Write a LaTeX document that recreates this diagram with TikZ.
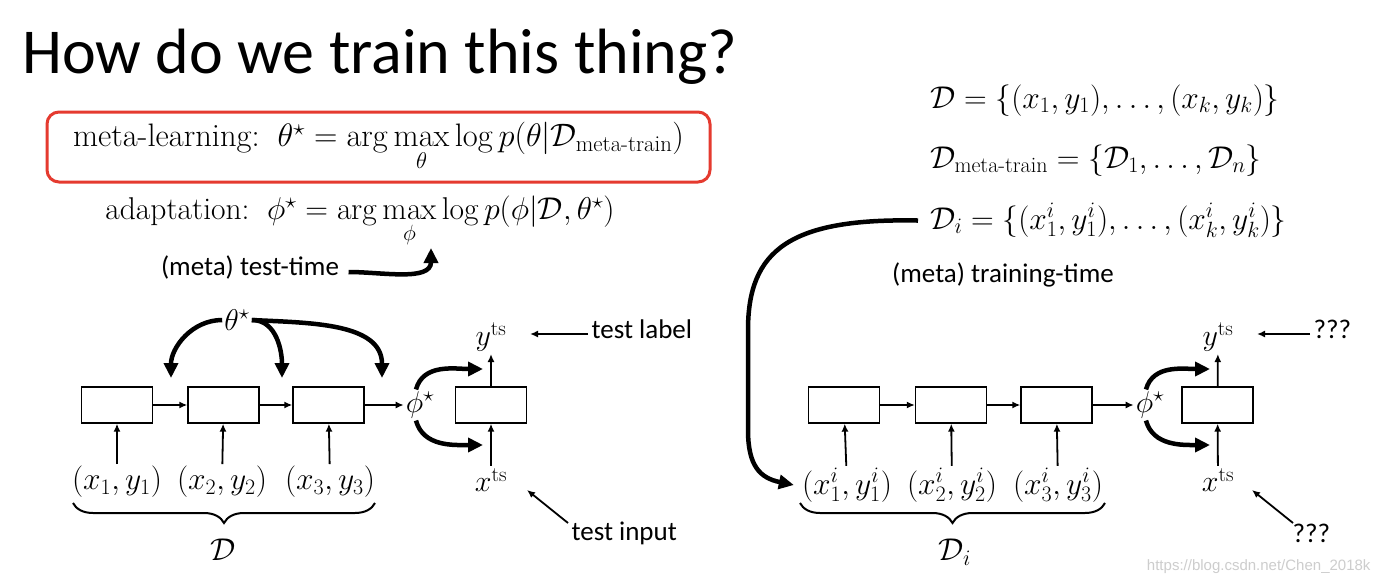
\RequirePackage{fix-cm}
\documentclass[tikz,border=0pt]{standalone}
\usepackage[no-math]{fontspec}
\usepackage{amsmath, amssymb}
\newfontfamily\slidefont{Carlito}
\newfontfamily\markfont{Liberation Sans}
\usepackage{xcolor}
\definecolor{slidered}{HTML}{E53A2F}
\definecolor{markgray}{HTML}{CDCDCD}
\usetikzlibrary{arrows.meta, decorations.pathreplacing}
\newcommand{\Dset}{\mathcal{D}}

\tikzset{
  cell/.style={draw, line width=1.3pt, minimum width=71pt, minimum height=36pt, inner sep=0pt},
  flow/.style={-{Latex[length=8pt,width=7pt]}, line width=1.8pt},
  bigarrow/.style={-{Triangle[length=15pt,width=14pt]}, line width=4.5pt},
  note/.style={font=\slidefont\fontsize{27}{32}\selectfont},
  eqn/.style={font=\fontsize{31.5}{38}\selectfont},
  lab/.style={font=\fontsize{30}{36}\selectfont, inner sep=2pt},
  pair/.style={font=\fontsize{31.5}{38}\selectfont, inner sep=2pt},
  setbrace/.style={decorate, decoration={brace, mirror, amplitude=20pt}, line width=2pt},
}

\begin{document}
\begin{tikzpicture}[x=1pt, y=1pt]
  \useasboundingbox (0,0) rectangle (1376,-584);
  \fill[white] (0,0) rectangle (1376,-584);

  % --- Title and objectives ---
  \node[font=\slidefont\fontsize{64}{72}\selectfont, anchor=base west, inner sep=0pt] (title) at (22,-73) {How do we train this thing?};
  \node[eqn, font=\fontsize{32.5}{39}\selectfont, draw=slidered, line width=3pt, rounded corners=12pt, minimum width=663pt, minimum height=70pt] (meta) at (378.5,-147)
    {$\text{meta-learning:}\;\; \theta^\star = \arg\max\limits_{\theta} \log p(\theta|\Dset_{\text{meta-train}})$};
  \node[eqn] (adapt) at (360,-222)
    {$\text{adaptation:}\;\; \phi^\star = \arg\max\limits_{\phi} \log p(\phi|\Dset,\theta^\star)$};
  \node[note] (tt) at (250,-267) {(meta) test-time};
  \coordinate (ttip) at (431,-248);
  \draw[bigarrow] ([shift={(6pt,-5pt)}]tt.east) to[out=0, in=-90] (ttip);

  % --- Left diagram: meta test-time ---
  \node[lab] (thL) at (237,-320) {$\theta^\star$};
  \node[cell] (a1) at (117,-405) {};
  \node[cell] (a2) at (223.5,-405) {};
  \node[cell] (a3) at (328.5,-405) {};
  \node[lab] (phiL) at (420,-405) {$\phi^\star$};
  \node[cell] (aT) at (491,-405) {};
  \node[lab] (yL) at (491,-337) {$y^{\mathrm{ts}}$};
  \node[lab] (xL) at (491,-480) {$x^{\mathrm{ts}}$};
  \node[pair] (d1) at (117,-482) {$(x_1,y_1)$};
  \node[pair] (d2) at (222,-482) {$(x_2,y_2)$};
  \node[pair] (d3) at (330,-482) {$(x_3,y_3)$};
  \node[pair] (DL) at (223,-550) {$\mathcal{D}$};

  \draw[flow] (a1) -- (a2);
  \draw[flow] (a2) -- (a3);
  \draw[flow] (a3) -- (phiL);
  \draw[flow] (d1) -- (a1);
  \draw[flow] (d2) -- (a2);
  \draw[flow] (d3) -- (a3);
  \draw[flow] (aT) -- (yL);
  \draw[flow] (xL) -- (aT);

  % theta* feeds the hidden states
  \coordinate (h1) at (171,-378);
  \coordinate (h2) at (282,-378);
  \coordinate (h3) at (382,-378);
  \draw[bigarrow] (thL.west) to[out=180, in=90] (h1);
  \draw[bigarrow] (thL.east) to[out=0, in=90] (h2);
  \draw[bigarrow] (thL.east) to[out=-3, in=90] (h3);

  % phi* feeds the test network
  \coordinate (upL) at (483,-369);
  \coordinate (loL) at (483,-445);
  \draw[bigarrow] ([xshift=-4pt]phiL.north) to[out=75, in=180] (upL);
  \draw[bigarrow] ([xshift=-4pt]phiL.south) to[out=-75, in=180] (loL);

  \draw[setbrace] (73,-503) -- (375,-503);

  \node[note, anchor=west] (tl) at (588,-329) {test label};
  \coordinate (tlend) at (530,-334);
  \draw[flow] ([yshift=-5pt]tl.west) -- (tlend);
  \node[note, anchor=west] (ti) at (568,-533) {test input};
  \coordinate (tiend) at (527,-490);
  \draw[flow] ([yshift=10pt]ti.west) -- (tiend);

  % --- Right diagram: meta training-time ---
  \node[eqn, anchor=base west, inner sep=0pt] (eqD) at (930,-108) {$\mathcal{D} = \{(x_1,y_1),\ldots,(x_k,y_k)\}$};
  \node[eqn, anchor=base west, inner sep=0pt] (eqM) at (930,-168) {$\mathcal{D}_{\text{meta-train}} = \{\mathcal{D}_1,\ldots,\mathcal{D}_n\}$};
  \node[eqn, anchor=base west, inner sep=0pt] (eqDi) at (930,-229) {$\mathcal{D}_i = \{(x_1^i,y_1^i),\ldots,(x_k^i,y_k^i)\}$};
  \node[note] (trt) at (1003,-275) {(meta) training-time};

  \begin{scope}[xshift=727pt]
  \node[cell] (b1) at (117,-405) {};
  \node[cell] (b2) at (224,-405) {};
  \node[cell] (b3) at (329.5,-405) {};
  \node[lab] (phiR) at (423,-405) {$\phi^\star$};
  \node[cell] (bT) at (490.5,-405) {};
  \node[lab] (yR) at (491,-337) {$y^{\mathrm{ts}}$};
  \node[lab] (xR) at (491,-480) {$x^{\mathrm{ts}}$};
  \node[pair] (e1) at (120,-485) {$(x_1^i,y_1^i)$};
  \node[pair] (e2) at (225,-485) {$(x_2^i,y_2^i)$};
  \node[pair] (e3) at (331,-485) {$(x_3^i,y_3^i)$};
  \node[pair] (DR) at (228,-552) {$\mathcal{D}_i$};

  \draw[flow] (b1) -- (b2);
  \draw[flow] (b2) -- (b3);
  \draw[flow] (b3) -- (phiR);
  \draw[flow] (e1) -- (b1);
  \draw[flow] (e2) -- (b2);
  \draw[flow] (e3) -- (b3);
  \draw[flow] (bT) -- (yR);
  \draw[flow] (xR) -- (bT);

  \coordinate (upR) at (483,-369);
  \coordinate (loR) at (483,-445);
  \draw[bigarrow] ([xshift=-4pt]phiR.north) to[out=75, in=180] (upR);
  \draw[bigarrow] ([xshift=-4pt]phiR.south) to[out=-75, in=180] (loR);

  \draw[setbrace] (73,-503) -- (378,-503);

  \node[note, anchor=west] (qy) at (583,-329) {???};
  \coordinate (qyend) at (530,-334);
  \draw[flow] ([yshift=-5pt]qy.west) -- (qyend);
  \node[note, anchor=west] (qx) at (562,-533) {???};
  \coordinate (qxend) at (525,-490);
  \draw[flow] ([shift={(4pt,10pt)}]qx.west) -- (qxend);
  \end{scope}

  % D_i is sampled into the adaptation chain
  \draw[bigarrow] ([xshift=-12pt]eqDi.west) .. controls (790,-218) and (748,-250) .. (748,-330)
    -- (748,-430) .. controls (748,-466) and (760,-478) .. ([xshift=-6pt]e1.west);

  \node[font=\markfont\fontsize{15}{18}\selectfont, text=markgray, anchor=east] (mark) at (1374,-567) {https://blog.csdn.net/Chen\_2018k};
\end{tikzpicture}
\end{document}
